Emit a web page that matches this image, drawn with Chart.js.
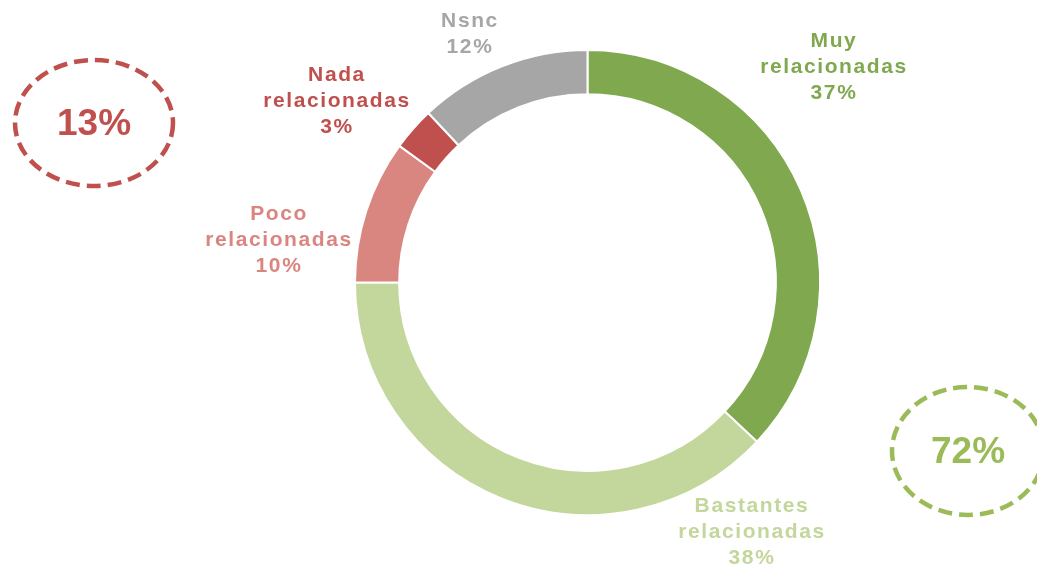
<!DOCTYPE html>
<html>
<head>
<meta charset="utf-8">
<script src="https://cdn.jsdelivr.net/npm/chart.js@4/dist/chart.umd.min.js"></script>
<style>
  html, body { margin: 0; padding: 0; background: #fff; }
  #wrap { width: 1037px; height: 568px; position: relative; }
</style>
</head>
<body>
<div id="wrap"><canvas id="chartCanvas"></canvas></div>
<script>
const categories = ["Muy relacionadas", "Bastantes relacionadas", "Poco relacionadas", "Nada relacionadas", "Nsnc"];
const values = [37, 38, 10, 3, 12];
const sliceColors = ["#7FA84F", "#C3D69B", "#DA8680", "#C0504D", "#A6A6A6"];

// summary bubbles (sum of groups)
const bubbleTexts = ["13%", "72%"];
const bubbleColors = ["#C0504D", "#9BBB59"];

// label placement (center x, first baseline)
const labelPos = [[833, 47], [751, 512], [278, 220], [336, 81], [469, 27]];
const bubblePos = [[94, 123, 79, 63], [968, 451, 76, 64]];

const labelPlugin = {
  id: "sliceLabels",
  afterDatasetsDraw(chart) {
    const ctx = chart.ctx;
    ctx.save();
    ctx.font = "bold 21px 'Liberation Sans', Arial, sans-serif";
    ctx.letterSpacing = "1.6px";
    ctx.textAlign = "center";
    ctx.textBaseline = "alphabetic";
    categories.forEach((name, i) => {
      const words = name.split(" ");
      const lines = words.concat([values[i] + "%"]);
      ctx.fillStyle = sliceColors[i];
      lines.forEach((line, j) => {
        ctx.fillText(line, labelPos[i][0] + 1, labelPos[i][1] + j * 26);
      });
    });
    ctx.restore();
  },
  afterDraw(chart) {
    const ctx = chart.ctx;
    ctx.save();
    bubblePos.forEach((b, i) => {
      ctx.beginPath();
      ctx.ellipse(b[0], b[1], b[2], b[3], 0, 0, Math.PI * 2);
      ctx.setLineDash([14, 7]);
      ctx.lineWidth = 4.5;
      ctx.strokeStyle = bubbleColors[i];
      ctx.stroke();
      ctx.setLineDash([]);
      ctx.fillStyle = bubbleColors[i];
      ctx.font = "bold 37px 'Liberation Sans', Arial, sans-serif";
      ctx.textAlign = "center";
      ctx.textBaseline = "middle";
      ctx.fillText(bubbleTexts[i], b[0], b[1] + 2);
    });
    ctx.restore();
  }
};

const ctx = document.getElementById("chartCanvas").getContext("2d");
new Chart(ctx, {
  type: "doughnut",
  data: {
    labels: categories,
    datasets: [{
      data: values,
      backgroundColor: sliceColors,
      borderColor: "#ffffff",
      borderWidth: 2,
      hoverOffset: 0
    }]
  },
  options: {
    responsive: true,
    maintainAspectRatio: false,
    animation: false,
    cutout: "81%",
    layout: { padding: { left: 354, right: 216, top: 49, bottom: 52 } },
    plugins: {
      legend: { display: false },
      tooltip: { enabled: false }
    }
  },
  plugins: [labelPlugin]
});
</script>
</body>
</html>
